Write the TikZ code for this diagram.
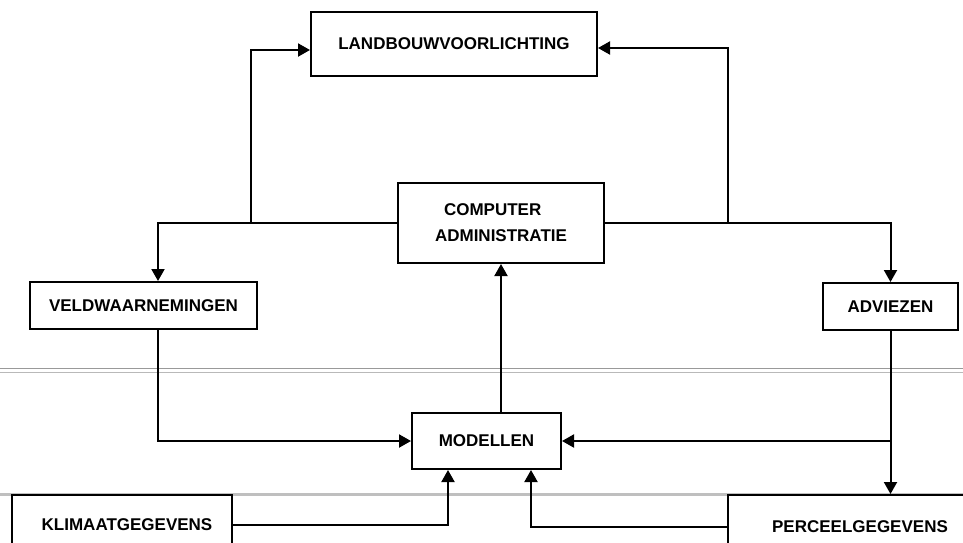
\documentclass[tikz,border=0pt]{standalone}
\usepackage{fontspec}
\setmainfont{Liberation Sans}
\usetikzlibrary{arrows.meta}
\begin{document}
\begin{tikzpicture}[x=1pt,y=-1pt,
  box/.style={draw=black,line width=2pt,rectangle,inner sep=0pt,
    font=\fontsize{17}{26}\selectfont\bfseries},
  arr/.style={draw=black,line width=2pt,-{Triangle[length=12pt,width=13pt]}},
  scan/.style={line width=1.6pt}]
\useasboundingbox (0,0) rectangle (963,542);
\fill[white] (0,0) rectangle (963,542);
% scan artefact lines
\draw[scan,gray!80] (0,368.5) -- (963,368.5);
\draw[scan,gray!55] (0,372.5) -- (963,372.5);
\draw[line width=3pt,gray!50] (0,494) -- (963,494);
% nodes
\node[box,minimum width=286pt,minimum height=64pt] (land) at (454,44) {LANDBOUWVOORLICHTING};
\node[box,minimum width=206pt,minimum height=80pt,align=left] (comp) at (501,223) {\hspace*{9pt}COMPUTER\\ADMINISTRATIE};
\node[box,minimum width=227pt,minimum height=47pt] (veld) at (143.5,305.5) {VELDWAARNEMINGEN};
\node[box,minimum width=135pt,minimum height=47pt] (adv) at (890.5,306.5) {ADVIEZEN};
\node[box,minimum width=149pt,minimum height=56pt] (mod) at (486.5,441) {MODELLEN};
\node[box,minimum width=220pt,minimum height=60pt] (klim) at (122,525) {\hspace*{10pt}KLIMAATGEGEVENS};
\node[box,minimum width=264pt,minimum height=64pt] (perc) at (860,527) {PERCEELGEGEVENS};
% helper coordinates
\coordinate (vx) at (158,0);
\coordinate (j1) at (251,223);
\coordinate (j2) at (728,223);
\coordinate (kx) at (448,0);
\coordinate (px) at (531,0);
% connectors
\draw[arr] (comp.west) -| (veld.north -| vx);
\draw[arr] (j1) |- ([yshift=-6pt]land.west);
\draw[arr] (comp.east) -| (adv.north);
\draw[arr] (j2) |- ([yshift=-4pt]land.east);
\draw[arr] (veld.south -| vx) |- (mod.west);
\draw[arr] (mod.north -| comp.south) -- (comp.south);
\draw[arr] (adv.south) -- (perc.north -| adv.south);
\draw[arr] (adv.south |- mod.east) -- (mod.east);
\draw[arr] (klim.east) -| (mod.south -| kx);
\draw[arr] (perc.west) -| (mod.south -| px);
\end{tikzpicture}
\end{document}
